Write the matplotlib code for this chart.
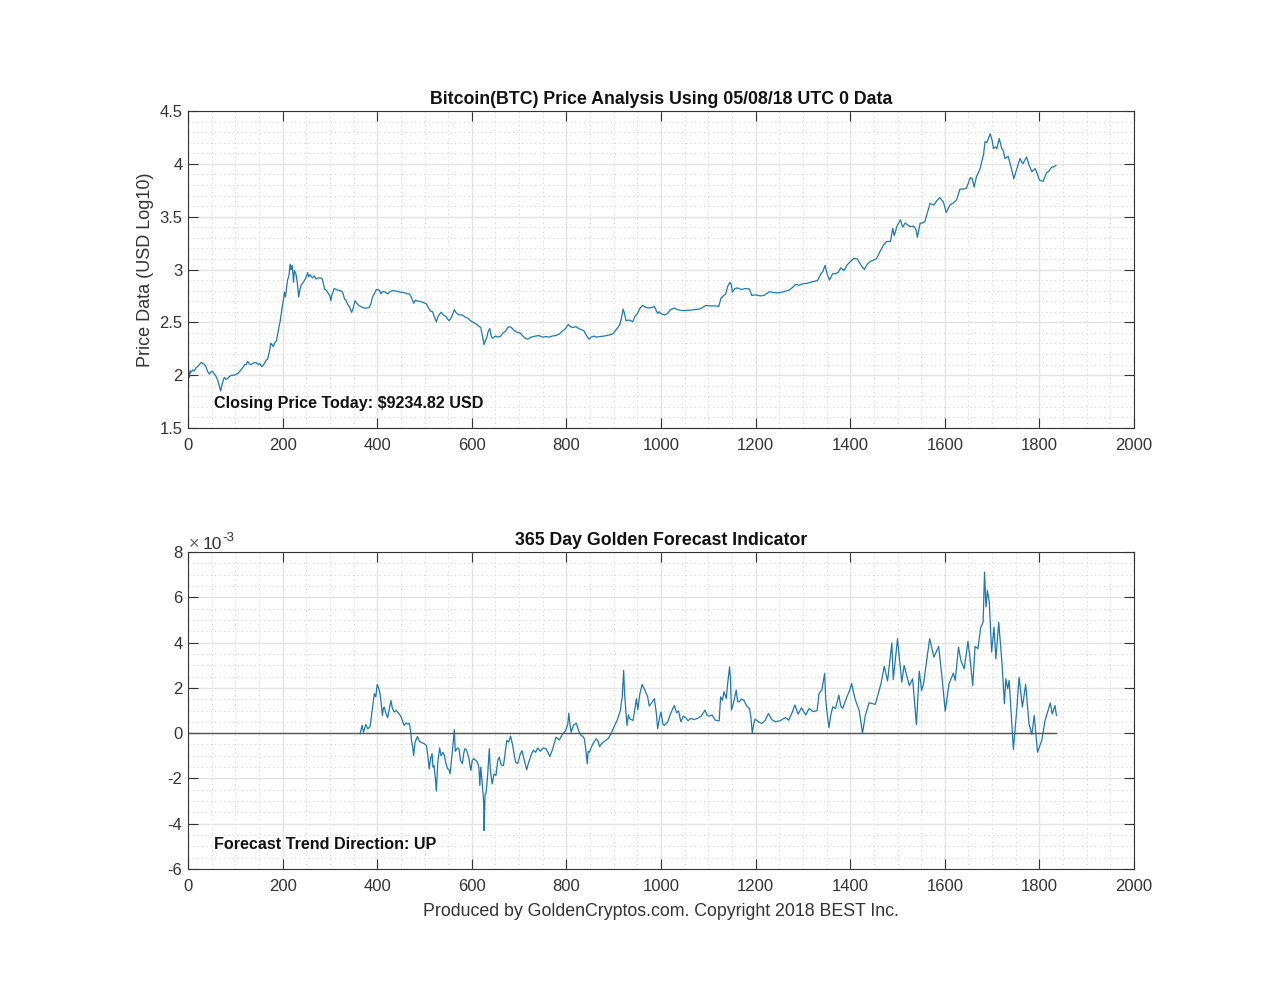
import matplotlib
matplotlib.use('Agg')
import matplotlib.pyplot as plt
from matplotlib.ticker import MultipleLocator, FormatStrFormatter

# values
price_days = [0, 2, 3, 5, 7, 10, 13, 17, 20, 24, 28, 32, 37, 41, 45, 48, 52, 56, 59, 63, 66, 69, 72, 75, 77, 80, 84, 87, 92, 98,
              105, 110, 115, 120, 123, 126, 130, 133, 138, 144, 148, 152, 156, 160, 165, 168, 172, 175, 177, 180, 184, 187,
              190, 195, 199, 202, 204, 206, 209, 211, 213, 216, 218, 220, 222, 223, 225, 228, 231, 234, 236, 239, 244, 249,
              253, 255, 258, 263, 267, 271, 276, 280, 284, 287, 289, 293, 297, 300, 302, 304, 306, 309, 314, 319, 323, 327,
              331, 334, 337, 341, 346, 349, 353, 357, 361, 365, 372, 378, 383, 387, 390, 395, 398, 401, 405, 408, 411, 416,
              422, 427, 432, 441, 450, 458, 463, 468, 472, 477, 481, 485, 489, 496, 504, 508, 513, 517, 521, 525, 529, 535,
              540, 546, 552, 556, 560, 563, 567, 573, 580, 586, 591, 596, 601, 607, 613, 619, 622, 626, 629, 632, 635, 638,
              641, 644, 650, 655, 661, 666, 672, 676, 679, 684, 690, 696, 702, 708, 713, 718, 725, 735, 742, 750, 757, 763,
              770, 778, 785, 792, 798, 804, 808, 814, 820, 826, 832, 837, 842, 848, 852, 858, 863, 870, 880, 890, 898, 905,
              912, 916, 920, 923, 926, 930, 935, 940, 946, 950, 955, 961, 968, 975, 980, 986, 990, 993, 996, 1001, 1007, 1013,
              1020, 1028, 1035, 1046, 1060, 1070, 1081, 1088, 1095, 1105, 1115, 1122, 1127, 1132, 1137, 1141, 1146, 1149,
              1151, 1156, 1162, 1170, 1178, 1187, 1192, 1200, 1210, 1218, 1229, 1240, 1250, 1260, 1271, 1278, 1285, 1292,
              1299, 1310, 1320, 1331, 1338, 1342, 1347, 1351, 1356, 1363, 1369, 1375, 1380, 1387, 1393, 1400, 1408, 1415,
              1423, 1430, 1436, 1442, 1450, 1456, 1463, 1470, 1477, 1485, 1490, 1493, 1499, 1506, 1511, 1516, 1522, 1527,
              1534, 1539, 1542, 1548, 1553, 1558, 1564, 1569, 1577, 1583, 1589, 1597, 1603, 1611, 1618, 1625, 1632, 1638,
              1646, 1654, 1658, 1662, 1667, 1671, 1675, 1678, 1682, 1685, 1689, 1696, 1700, 1703, 1707, 1710, 1715, 1720,
              1724, 1727, 1734, 1740, 1746, 1752, 1759, 1765, 1773, 1778, 1784, 1791, 1796, 1800, 1808, 1815, 1820, 1826,
              1830, 1835]
price_log = [2.15, 2.0, 1.98, 2.04, 2.03, 2.05, 2.04, 2.07, 2.08, 2.10, 2.12, 2.11, 2.09, 2.04, 2.01, 2.03, 2.035, 2.01, 1.99, 1.95,
             1.90, 1.85, 1.91, 1.96, 1.98, 1.96, 1.97, 1.985, 2.0, 2.0, 2.015, 2.04, 2.065, 2.10, 2.10, 2.13, 2.105, 2.10, 2.115, 2.12,
             2.10, 2.11, 2.08, 2.10, 2.14, 2.15, 2.22, 2.30, 2.295, 2.27, 2.31, 2.325, 2.40, 2.515, 2.64, 2.72, 2.785, 2.74, 2.85, 2.91,
             2.93, 3.05, 3.0, 3.04, 2.95, 2.88, 2.99, 2.96, 2.88, 2.74, 2.80, 2.85, 2.88, 2.92, 2.97, 2.93, 2.95, 2.92, 2.94, 2.91, 2.92,
             2.92, 2.91, 2.85, 2.815, 2.80, 2.77, 2.75, 2.705, 2.76, 2.78, 2.82, 2.81, 2.80, 2.80, 2.785, 2.72, 2.71, 2.675, 2.65, 2.595,
             2.63, 2.705, 2.68, 2.66, 2.65, 2.635, 2.635, 2.64, 2.68, 2.74, 2.78, 2.81, 2.81, 2.80, 2.77, 2.79, 2.79, 2.77, 2.79, 2.80,
             2.795, 2.785, 2.78, 2.77, 2.77, 2.74, 2.68, 2.71, 2.70, 2.70, 2.69, 2.675, 2.64, 2.605, 2.60, 2.55, 2.505, 2.56, 2.595, 2.57,
             2.55, 2.515, 2.54, 2.58, 2.62, 2.59, 2.57, 2.57, 2.55, 2.54, 2.52, 2.505, 2.49, 2.47, 2.45, 2.38, 2.29, 2.33, 2.36, 2.42,
             2.44, 2.37, 2.35, 2.37, 2.36, 2.37, 2.40, 2.42, 2.45, 2.46, 2.45, 2.42, 2.405, 2.40, 2.37, 2.35, 2.34, 2.36, 2.37, 2.375,
             2.36, 2.365, 2.36, 2.37, 2.375, 2.39, 2.42, 2.44, 2.48, 2.46, 2.45, 2.46, 2.44, 2.43, 2.42, 2.38, 2.34, 2.36, 2.37, 2.36,
             2.365, 2.37, 2.38, 2.39, 2.43, 2.47, 2.53, 2.625, 2.58, 2.515, 2.52, 2.52, 2.505, 2.565, 2.58, 2.63, 2.66, 2.64, 2.635,
             2.64, 2.65, 2.61, 2.585, 2.60, 2.58, 2.57, 2.58, 2.62, 2.635, 2.62, 2.61, 2.615, 2.62, 2.625, 2.64, 2.66, 2.655, 2.655,
             2.65, 2.73, 2.75, 2.77, 2.84, 2.88, 2.85, 2.785, 2.82, 2.825, 2.81, 2.82, 2.815, 2.755, 2.76, 2.75, 2.755, 2.79, 2.78, 2.78,
             2.79, 2.805, 2.83, 2.86, 2.85, 2.865, 2.87, 2.885, 2.895, 2.96, 2.98, 3.04, 2.96, 2.90, 2.96, 2.96, 2.975, 3.015, 2.99, 3.04,
             3.075, 3.105, 3.10, 3.04, 3.00, 3.05, 3.075, 3.09, 3.105, 3.17, 3.23, 3.265, 3.265, 3.39, 3.32, 3.41, 3.47, 3.40, 3.44,
             3.42, 3.405, 3.41, 3.38, 3.305, 3.44, 3.44, 3.455, 3.55, 3.625, 3.61, 3.65, 3.68, 3.64, 3.54, 3.61, 3.63, 3.66, 3.76, 3.76,
             3.77, 3.87, 3.86, 3.78, 3.88, 3.915, 3.96, 4.02, 4.09, 4.21, 4.20, 4.285, 4.22, 4.145, 4.16, 4.145, 4.24, 4.15, 4.12, 4.05,
             4.07, 3.97, 3.86, 3.95, 4.05, 4.00, 4.065, 3.99, 3.925, 3.955, 3.90, 3.845, 3.835, 3.915, 3.93, 3.97, 3.97, 3.985]

# indicator is in units of 1e-3
forecast_days = [364, 368, 371, 376, 380, 385, 388, 392, 394, 397, 400, 403, 406, 409, 411, 413, 415, 418, 422, 426, 429, 432, 436,
                 440, 446, 450, 454, 457, 461, 465, 468, 471, 473, 475, 477, 480, 482, 485, 489, 492, 498, 504, 507, 510, 513,
                 516, 518, 520, 523, 525, 528, 532, 535, 539, 542, 546, 549, 552, 554, 558, 563, 565, 566, 570, 573, 576, 580,
                 583, 585, 589, 594, 598, 601, 604, 608, 612, 615, 617, 619, 622, 625, 626, 628, 630, 633, 637, 639, 643, 647,
                 651, 655, 658, 662, 667, 671, 674, 678, 682, 686, 690, 693, 697, 702, 706, 711, 716, 720, 725, 730, 735, 739,
                 745, 751, 757, 761, 765, 771, 778, 785, 792, 798, 803, 805, 808, 810, 815, 821, 826, 831, 835, 838, 841, 844,
                 846, 849, 853, 858, 863, 867, 870, 875, 881, 888, 895, 902, 908, 914, 918, 921, 923, 926, 928, 931, 934, 941,
                 945, 948, 951, 955, 960, 966, 972, 975, 979, 986, 990, 993, 997, 1000, 1004, 1007, 1014, 1021, 1028, 1033,
                 1037, 1042, 1047, 1052, 1057, 1063, 1070, 1077, 1085, 1093, 1097, 1101, 1108, 1115, 1123, 1126, 1130, 1133,
                 1138, 1141, 1145, 1147, 1149, 1154, 1159, 1162, 1165, 1170, 1175, 1181, 1187, 1190, 1193, 1196, 1199, 1206,
                 1213, 1220, 1227, 1234, 1242, 1252, 1263, 1270, 1277, 1283, 1290, 1297, 1306, 1313, 1322, 1330, 1334, 1340,
                 1344, 1346, 1348, 1350, 1355, 1359, 1363, 1369, 1376, 1380, 1384, 1393, 1399, 1403, 1407, 1411, 1419, 1426,
                 1432, 1440, 1453, 1465, 1472, 1479, 1488, 1491, 1500, 1509, 1514, 1525, 1532, 1540, 1546, 1551, 1555, 1568,
                 1577, 1587, 1594, 1601, 1609, 1618, 1622, 1629, 1634, 1641, 1649, 1653, 1659, 1664, 1670, 1676, 1681, 1684,
                 1687, 1690, 1694, 1699, 1704, 1708, 1714, 1721, 1726, 1729, 1733, 1736, 1745, 1752, 1757, 1764, 1771, 1778,
                 1784, 1789, 1796, 1805, 1812, 1823, 1827, 1833, 1836]
forecast_vals = [-0.03, 0.34, 0.04, 0.38, 0.19, 0.29, 0.8, 1.44, 1.74, 1.6, 2.15, 2.0, 1.74, 1.2, 0.78, 1.1, 1.15, 0.9, 0.68, 1.1, 1.44,
                 1.1, 0.93, 1.0, 0.85, 0.75, 0.5, 0.34, 0.45, 0.4, 0.44, 0.0, -0.4, -0.6, -0.99, -0.4, -0.3, -0.15, -0.35, -0.4, -0.45,
                 -0.54, -1.0, -1.58, -1.1, -0.91, -1.5, -1.43, -2.0, -2.56, -1.3, -0.65, -1.0, -0.85, -0.99, -1.4, -1.58, -1.6, -1.8,
                 -1.0, 0.15, -0.8, -0.77, -0.65, -0.69, -1.2, -1.35, -0.9, -0.69, -0.75, -1.13, -1.65, -1.2, -1.13, -1.2, -1.28, -1.5,
                 -2.31, -1.5, -2.2, -3.0, -4.3, -2.7, -2.68, -2.0, -0.69, -1.6, -2.24, -1.8, -1.87, -1.2, -1.06, -1.4, -1.43, -0.8, -0.32,
                 -0.4, -0.13, -0.5, -0.99, -1.3, -1.35, -0.95, -0.77, -1.2, -1.62, -1.3, -0.99, -0.75, -0.85, -0.66, -0.8, -0.65, -0.69,
                 -0.85, -1.03, -0.7, -0.18, -0.3, -0.03, 0.1, 0.4, 0.88, 0.3, 0.04, 0.35, 0.44, 0.1, -0.1, -0.15, -0.25, -0.7, -1.35, -0.8,
                 -0.84, -0.6, -0.4, -0.25, -0.35, -0.59, -0.45, -0.35, -0.25, 0.0, 0.34, 0.6, 1.0, 1.6, 2.77, 1.74, 0.9, 0.34, 0.8, 0.63,
                 0.56, 1.1, 1.52, 1.03, 1.7, 2.15, 1.9, 1.59, 1.2, 1.3, 1.52, 0.9, 0.19, 0.7, 0.93, 0.4, 0.34, 0.49, 0.9, 1.22, 0.9, 0.99,
                 0.5, 0.75, 0.69, 0.55, 0.65, 0.6, 0.65, 0.75, 1.02, 0.8, 0.75, 0.8, 0.57, 0.54, 1.6, 1.45, 1.83, 1.53, 2.2, 2.93, 2.3, 1.02,
                 1.4, 1.9, 1.4, 1.38, 1.5, 1.46, 1.2, 1.09, 0.7, 0.0, 0.4, 0.62, 0.5, 0.43, 0.55, 0.87, 0.6, 0.5, 0.55, 0.69, 0.57, 0.9, 1.24,
                 0.84, 1.12, 0.8, 1.09, 0.95, 0.99, 1.75, 1.9, 2.4, 2.64, 1.6, 1.09, 0.24, 0.8, 1.16, 1.09, 1.68, 1.2, 1.09, 1.6, 1.9, 2.19,
                 1.8, 1.46, 1.0, 0.0, 0.78, 1.34, 1.27, 2.18, 2.95, 2.3, 3.98, 2.36, 4.17, 2.25, 2.99, 2.1, 2.4, 0.37, 2.74, 1.89, 2.18,
                 4.17, 3.36, 3.83, 2.47, 0.97, 2.18, 2.65, 2.33, 3.8, 3.21, 2.84, 4.05, 3.36, 2.1, 3.83, 3.73, 4.68, 4.9, 7.11, 5.57, 6.3,
                 5.79, 3.58, 4.68, 3.28, 4.9, 3.06, 1.3, 2.4, 1.96, 2.33, -0.72, 1.0, 2.47, 1.15, 2.15, 0.41, -0.06, 0.78, -0.84, -0.32, 0.56,
                 1.33, 0.85, 1.22, 0.78]
zero_days = [0, 1836]
zero_vals = [0, 0]

plt.rcParams['font.family'] = ['Liberation Sans', 'DejaVu Sans']
plt.rcParams['axes.unicode_minus'] = False

DARK = '#333333'
W, H = 1280.0, 989.0


def setup(ax, ymaj, ymin):
  ax.set_xlim(0, 2000)
  ax.xaxis.set_major_locator(MultipleLocator(200))
  ax.xaxis.set_minor_locator(MultipleLocator(50))
  ax.yaxis.set_major_locator(MultipleLocator(ymaj))
  ax.yaxis.set_minor_locator(MultipleLocator(ymin))
  ax.yaxis.set_major_formatter(FormatStrFormatter('%g'))
  ax.set_axisbelow(True)
  ax.grid(which='major', color='#e4e4e4', linewidth=1)
  ax.grid(which='minor', color='#d4d4d4', linewidth=0.8, linestyle=(0, (1, 3)))
  ax.tick_params(which='major', direction='in', top=True, right=True, length=7, width=0.8, color=DARK)
  ax.tick_params(axis='x', which='major', labelcolor=DARK, labelsize=12, pad=7.5)
  ax.tick_params(axis='y', which='major', labelcolor=DARK, labelsize=12, pad=4)
  ax.tick_params(which='minor', length=0)
  for s in ax.spines.values():
    s.set_color(DARK)
    s.set_linewidth(0.8)


fig = plt.figure(figsize=[12.8, 9.89], dpi=100)

ax1 = fig.add_axes([188 / W, 1 - 428 / H, 946 / W, 317 / H])
ax1.plot(price_days, price_log, color='#1f78ad', linewidth=0.9)
ax1.set_ylim(1.5, 4.5)
setup(ax1, 0.5, 0.1)
ax1.set_title('Bitcoin(BTC) Price Analysis Using 05/08/18 UTC 0 Data', fontsize=12.8, fontweight='bold',
              color='#111111', pad=5)
ax1.set_ylabel('Price Data (USD Log10)', fontsize=13, color=DARK, labelpad=4)
ax1.text(55, 1.736, 'Closing Price Today: \\$9234.82 USD', fontsize=11.65, fontweight='bold', color='#111111', va='center')

ax2 = fig.add_axes([188 / W, 1 - 869 / H, 946 / W, 317 / H])
ax2.plot(forecast_days, forecast_vals, color='#1f78ad', linewidth=0.9)
ax2.plot(zero_days, zero_vals, color='#555555', linewidth=1)
ax2.set_ylim(-6, 8)
setup(ax2, 2, 0.5)
ax2.set_title('365 Day Golden Forecast Indicator', fontsize=12.8, fontweight='bold', color='#111111', pad=5)
ax2.set_xlabel('Produced by GoldenCryptos.com. Copyright 2018 BEST Inc.', fontsize=12.75, color=DARK, labelpad=6)
ax2.text(55, -4.92, 'Forecast Trend Direction: UP', fontsize=11.65, fontweight='bold', color='#111111', va='center')

# exponent label, built from pieces so the hyphen and the pale cross look right
fig.text(189 / W, 1 - 549 / H, '\u00d7', fontsize=13, color='#666666', va='baseline')
fig.text(203 / W, 1 - 549 / H, '10', fontsize=12.5, color=DARK, va='baseline')
fig.text(222 / W, 1 - 541 / H, '-3', fontsize=9.5, color=DARK, va='baseline')

fig.savefig('out.png', dpi=100, facecolor='white')
